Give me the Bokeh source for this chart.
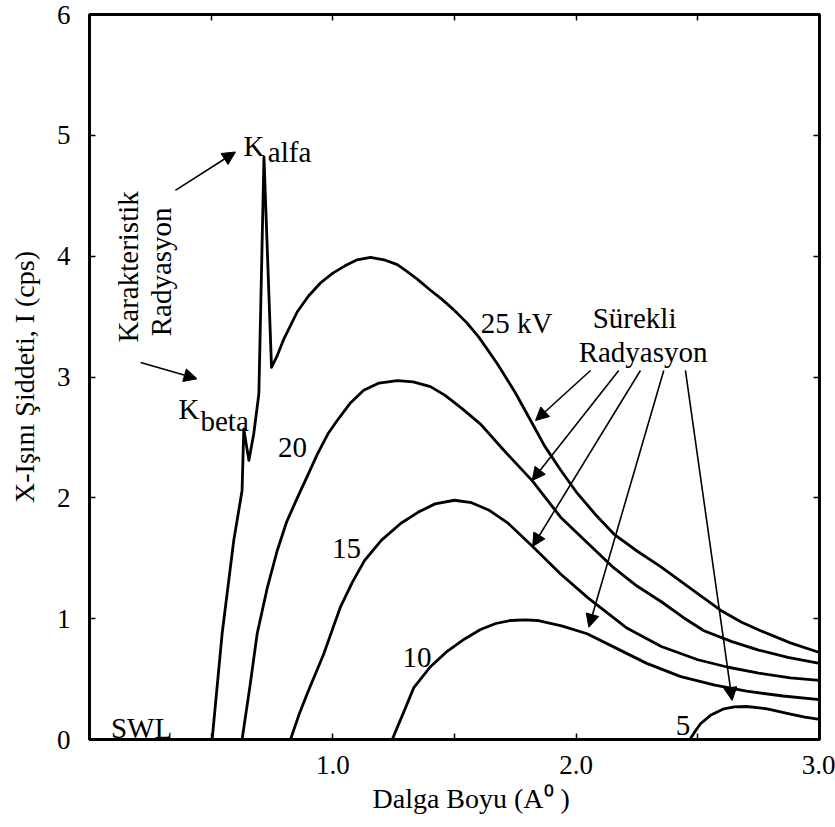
from bokeh.plotting import figure
from bokeh.models import (Range1d, FixedTicker, LinearAxis, PrintfTickFormatter,
                          Arrow, NormalHead, Title, ColumnDataSource)
from bokeh.core.properties import value
from bokeh.embed import file_html
from bokeh.resources import INLINE
import math

# Wavelength (Angstrom) and intensity (cps) for each tube voltage
kv25_x = [0.504, 0.545, 0.593, 0.627, 0.634, 0.655, 0.675, 0.696, 0.717, 0.748, 0.77,
          0.80, 0.854, 0.90, 0.95, 1.00, 1.05, 1.10, 1.155, 1.21, 1.265, 1.30, 1.347,
          1.40, 1.45, 1.50, 1.55, 1.60, 1.676, 1.75, 1.813, 1.87, 1.936, 2.00, 2.08,
          2.155, 2.25, 2.347, 2.45, 2.593, 2.68, 2.758, 2.88, 3.00]
kv25_y = [0.00, 0.875, 1.65, 2.06, 2.57, 2.31, 2.53, 2.86, 4.82, 3.08, 3.17,
          3.32, 3.54, 3.67, 3.78, 3.86, 3.92, 3.97, 3.99, 3.97, 3.93, 3.88, 3.81,
          3.72, 3.64, 3.55, 3.45, 3.33, 3.11, 2.87, 2.64, 2.43, 2.23, 2.05, 1.86,
          1.70, 1.56, 1.43, 1.28, 1.07, 0.97, 0.90, 0.80, 0.72]

kv20_x = [0.627, 0.66, 0.689, 0.73, 0.771, 0.81, 0.854, 0.90, 0.936, 0.98, 1.018,
          1.07, 1.127, 1.19, 1.265, 1.33, 1.401, 1.46, 1.53, 1.607, 1.70, 1.82,
          1.936, 2.05, 2.155, 2.25, 2.35, 2.44, 2.525, 2.64, 2.75, 2.87, 3.00]
kv20_y = [0.00, 0.45, 0.875, 1.25, 1.56, 1.80, 2.00, 2.20, 2.36, 2.53, 2.64,
          2.78, 2.89, 2.95, 2.97, 2.96, 2.92, 2.85, 2.74, 2.61, 2.40, 2.14,
          1.84, 1.62, 1.42, 1.27, 1.14, 1.01, 0.90, 0.81, 0.74, 0.68, 0.63]

kv15_x = [0.826, 0.86, 0.895, 0.93, 0.963, 1.00, 1.032, 1.08, 1.13, 1.20, 1.28, 1.35,
          1.42, 1.50, 1.57, 1.64, 1.72, 1.82, 1.936, 2.05, 2.21, 2.35, 2.50, 2.62,
          2.75, 2.88, 3.00]
kv15_y = [0.00, 0.20, 0.38, 0.55, 0.71, 0.92, 1.10, 1.30, 1.48, 1.65, 1.79, 1.88,
          1.95, 1.98, 1.96, 1.90, 1.79, 1.60, 1.37, 1.17, 0.92, 0.77, 0.66, 0.60,
          0.55, 0.51, 0.49]

kv10_x = [1.244, 1.29, 1.333, 1.40, 1.47, 1.54, 1.607, 1.67, 1.73, 1.79, 1.84, 1.94,
          2.045, 2.17, 2.29, 2.43, 2.57, 2.70, 2.85, 3.00]
kv10_y = [0.00, 0.22, 0.43, 0.60, 0.73, 0.83, 0.91, 0.96, 0.985, 0.99, 0.985, 0.94,
          0.875, 0.75, 0.63, 0.52, 0.45, 0.40, 0.36, 0.33]

kv5_x = [2.467, 2.49, 2.511, 2.552, 2.607, 2.65, 2.70, 2.785, 2.881, 2.94, 3.00]
kv5_y = [0.00, 0.07, 0.13, 0.20, 0.254, 0.27, 0.273, 0.254, 0.21, 0.185, 0.166]

x_ticks = [0, 1, 2, 3]
x_minor = [0.5, 1.5, 2.5]
y_ticks = [0, 1, 2, 3, 4, 5, 6]

SERIF = "Liberation Serif"

p = figure(width=835, height=827, x_range=Range1d(0, 3), y_range=Range1d(0, 6),
           output_backend="svg", toolbar_location=None,
           min_border_left=89, min_border_right=16, min_border_top=14,
           min_border_bottom=88)
p.xgrid.visible = False
p.ygrid.visible = False
p.outline_line_color = "black"
p.outline_line_width = 3
p.background_fill_color = "white"
p.border_fill_color = "white"


def style_axis(ax, labels=True):
    ax.axis_line_width = 3
    ax.axis_line_color = "black"
    ax.major_tick_in = 6
    ax.major_tick_out = 0
    ax.minor_tick_in = 6
    ax.minor_tick_out = 0
    ax.major_tick_line_width = 1.5
    ax.minor_tick_line_width = 1.5
    if labels:
        ax.major_label_text_font = SERIF
        ax.major_label_text_font_size = "27px"
        ax.major_label_text_color = "black"
    else:
        ax.major_label_text_font_size = "0px"
        ax.major_label_standoff = 0


xa = p.xaxis[0]
xa.ticker = FixedTicker(ticks=x_ticks, minor_ticks=x_minor)
xa.formatter = PrintfTickFormatter(format="%.1f")
xa.major_label_overrides = {0: ""}
style_axis(xa)
xa.major_label_standoff = 16

ya = p.yaxis[0]
ya.ticker = FixedTicker(ticks=y_ticks)
style_axis(ya)
ya.major_label_standoff = 19
# a blank axis label keeps a little extra room between tick labels and the title
ya.axis_label = "\u00a0"
ya.axis_label_text_font_size = "8px"
ya.axis_label_standoff = 0

top = LinearAxis(ticker=FixedTicker(ticks=x_ticks, minor_ticks=x_minor))
style_axis(top, labels=False)
p.add_layout(top, "above")
right = LinearAxis(ticker=FixedTicker(ticks=y_ticks))
style_axis(right, labels=False)
p.add_layout(right, "right")

# Axis titles
p.add_layout(Title(text="Dalga Boyu (A⁰ )", text_font=SERIF, text_font_size="28px",
                   text_font_style="normal", text_color="black", align="left",
                   offset=283, standoff=8),
             "below")
p.add_layout(Title(text="X-Işını Şiddeti, I (cps)", text_font=SERIF,
                   text_font_size="28px", text_font_style="normal", text_color="black",
                   align="center", offset=-66, standoff=4),
             "left")

# Spectra
for xs, ys in [(kv25_x, kv25_y), (kv20_x, kv20_y), (kv15_x, kv15_y),
               (kv10_x, kv10_y), (kv5_x, kv5_y)]:
    p.line(xs, ys, line_color="black", line_width=2.8, line_join="round")


def texts(rows, align="left", baseline="alphabetic", angle=0.0, size="29px"):
    src = ColumnDataSource(dict(x=[r[0] for r in rows], y=[r[1] for r in rows],
                                t=[r[2] for r in rows]))
    p.text(x="x", y="y", text="t", source=src, text_font=value(SERIF),
           text_font_size=value(size), text_align=align, text_baseline=baseline,
           angle=angle, text_color="black")


# Characteristic lines
texts([(0.633, 4.908, "K"), (0.733, 4.858, "alfa"),
       (0.366, 2.739, "K"), (0.456, 2.640, "beta")])
texts([(0.160, 3.911, "Karakteristik"), (0.292, 3.870, "Radyasyon")],
      align="center", baseline="middle", angle=math.pi / 2)

# Voltage labels and notes
texts([(0.834, 2.417, "20"), (1.056, 1.581, "15"), (1.346, 0.679, "10"),
       (2.439, 0.116, "5"), (1.755, 3.451, "25 kV"), (2.240, 3.492, "Sürekli"),
       (2.275, 3.203, "Radyasyon"), (0.214, 0.099, "SWL")], align="center")

# Pointer arrows
arrows = [
    (0.353, 4.545, 0.600, 4.862),
    (0.210, 3.120, 0.442, 2.985),
    (2.059, 3.054, 1.833, 2.640),
    (2.175, 3.054, 1.819, 2.143),
    (2.264, 3.054, 1.821, 1.597),
    (2.360, 3.054, 2.052, 0.929),
    (2.449, 3.054, 2.641, 0.323),
]
for x0, y0, x1, y1 in arrows:
    p.add_layout(Arrow(end=NormalHead(size=13, fill_color="black", line_color="black",
                                      line_width=1),
                       x_start=x0, y_start=y0, x_end=x1, y_end=y1,
                       line_color="black", line_width=1.6))

open("out.html", "w").write(file_html(p, INLINE))
